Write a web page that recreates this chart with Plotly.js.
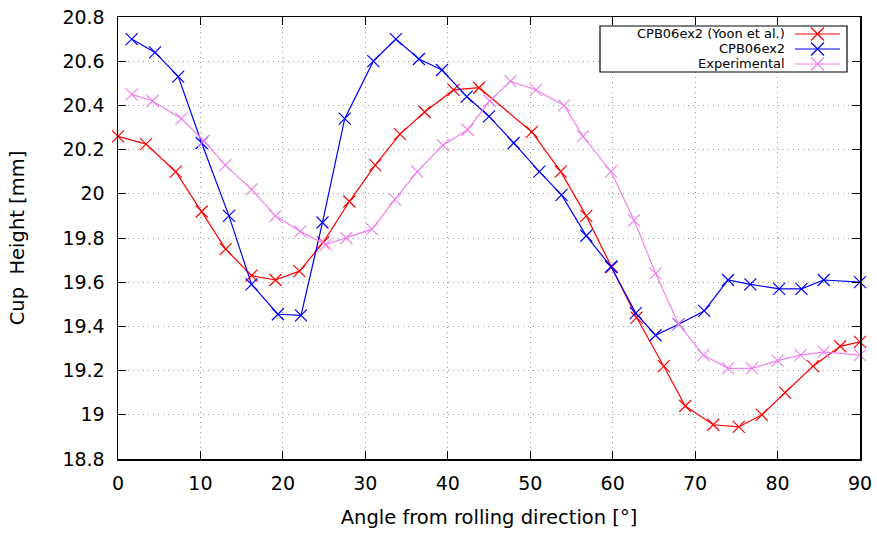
<!DOCTYPE html>
<html><head><meta charset="utf-8">
<script src="https://cdn.plot.ly/plotly-3.0.1.min.js"></script>
<style>html,body{margin:0;padding:0;background:#fff}#c{width:877px;height:533px}</style>
</head><body><div id="c"></div>
<script>
const yoonX = [0, 3.4, 7.0, 10.15, 13.06, 16.2, 19.1, 22.0, 24.9, 28.06, 31.2, 34.2, 37.2, 40.7, 43.8, 50.2, 53.7, 56.8, 59.9, 62.9, 66.2, 68.8, 72.2, 75.3, 78.1, 80.9, 84.3, 87.6, 90];
const yoonY = [20.26, 20.225, 20.10, 19.92, 19.75, 19.63, 19.61, 19.65, 19.78, 19.965, 20.13, 20.27, 20.37, 20.47, 20.48, 20.28, 20.10, 19.90, 19.67, 19.44, 19.22, 19.04, 18.955, 18.945, 19.00, 19.10, 19.22, 19.31, 19.33];
const cpbX = [1.66, 4.49, 7.31, 10.15, 13.46, 16.2, 19.4, 22.2, 24.8, 27.5, 30.97, 33.7, 36.5, 39.3, 42.3, 45.0, 48.0, 51.1, 53.8, 56.8, 59.8, 62.8, 65.2, 68.0, 71.1, 74.0, 76.7, 80.2, 82.9, 85.6, 90];
const cpbY = [20.70, 20.64, 20.53, 20.23, 19.90, 19.59, 19.455, 19.45, 19.87, 20.34, 20.60, 20.70, 20.61, 20.56, 20.44, 20.35, 20.23, 20.10, 19.995, 19.81, 19.67, 19.46, 19.36, 19.41, 19.47, 19.61, 19.59, 19.57, 19.57, 19.61, 19.60];
const expX = [1.66, 4.2, 7.7, 10.4, 13.0, 16.2, 19.1, 22.1, 25.2, 27.7, 30.8, 33.6, 36.3, 39.4, 42.4, 45.1, 47.6, 50.7, 54.1, 56.4, 59.8, 62.6, 65.2, 68.0, 71.0, 74.0, 76.9, 80.0, 82.8, 85.6, 90];
const expY = [20.45, 20.42, 20.34, 20.24, 20.13, 20.02, 19.90, 19.83, 19.77, 19.80, 19.84, 19.975, 20.10, 20.22, 20.29, 20.42, 20.51, 20.47, 20.40, 20.26, 20.10, 19.88, 19.64, 19.41, 19.27, 19.21, 19.21, 19.245, 19.27, 19.285, 19.27];
const seriesNames = ['CPB06ex2 (Yoon et al.)', 'CPB06ex2', 'Experimental'];
const seriesColors = ['#ff0000', '#0000ff', '#ee82ee'];
const xTicks = [0, 10, 20, 30, 40, 50, 60, 70, 80, 90];
const yTicks = [18.8, 19, 19.2, 19.4, 19.6, 19.8, 20, 20.2, 20.4, 20.6, 20.8];
const yTickText = ['18.8', '19', '19.2', '19.4', '19.6', '19.8', '20', '20.2', '20.4', '20.6', '20.8'];

const xs = [yoonX, cpbX, expX], ys = [yoonY, cpbY, expY];
const traces = xs.map((x, i) => ({
  x: x, y: ys[i], type: 'scatter', mode: 'lines+markers', name: seriesNames[i],
  line: {color: seriesColors[i], width: 1.2},
  marker: {symbol: 'x-thin-open', size: 12, line: {color: seriesColors[i], width: 1.2}},
  showlegend: false, cliponaxis: false
}));

const W = 877, H = 533, L = 118, R = 17, T = 17, B = 74;
const pw = W - L - R, ph = H - T - B;
function px(xp) { return (xp - L) / pw; }
function py(yp) { return 1 - (yp - T) / ph; }
const shapes = [];
const annotations = [];
shapes.push({type: 'rect', xref: 'paper', yref: 'paper', x0: px(600), x1: px(847), y0: py(26), y1: py(72), line: {color: '#000', width: 1.2}, fillcolor: '#fff', layer: 'above'});
const rowsY = [34, 49, 64];
seriesNames.forEach((n, i) => {
  const yy = rowsY[i];
  annotations.push({xref: 'paper', yref: 'paper', x: px(787), y: py(yy), xanchor: 'right', yanchor: 'middle', text: n, showarrow: false, font: {family: 'DejaVu Sans', size: 13, color: '#000'}});
  shapes.push({type: 'line', xref: 'paper', yref: 'paper', x0: px(795), x1: px(840), y0: py(yy), y1: py(yy), line: {color: seriesColors[i], width: 1.2}, layer: 'above'});
  shapes.push({type: 'line', xref: 'paper', yref: 'paper', x0: px(811), x1: px(824), y0: py(yy - 6.5), y1: py(yy + 6.5), line: {color: seriesColors[i], width: 1.2}, layer: 'above'});
  shapes.push({type: 'line', xref: 'paper', yref: 'paper', x0: px(811), x1: px(824), y0: py(yy + 6.5), y1: py(yy - 6.5), line: {color: seriesColors[i], width: 1.2}, layer: 'above'});
});

const axisCommon = {
  showline: true, linecolor: '#000', linewidth: 1.5, mirror: 'allticks',
  ticks: 'inside', ticklen: 8, tickwidth: 1, tickcolor: '#000',
  showgrid: true, gridcolor: '#9a9a9a', griddash: '1px,4px', gridwidth: 1,
  zeroline: false, tickfont: {family: 'DejaVu Sans', size: 19, color: '#000'}
};
const layout = {
  width: W, height: H, margin: {l: L, r: R, t: T, b: B},
  paper_bgcolor: '#fff', plot_bgcolor: '#fff', showlegend: false,
  xaxis: Object.assign({}, axisCommon, {range: [0, 90], tickvals: xTicks, ticktext: xTicks.map(String), ticklabelstandoff: 7,
    title: {text: 'Angle from rolling direction [°]', font: {family: 'DejaVu Sans', size: 19.5, color: '#000'}, standoff: 17}}),
  yaxis: Object.assign({}, axisCommon, {range: [18.8, 20.8], tickvals: yTicks, ticktext: yTickText, ticklabelstandoff: 8,
    title: {text: 'Cup  Height [mm]', font: {family: 'DejaVu Sans', size: 19.5, color: '#000'}, standoff: 32}}),
  shapes: shapes, annotations: annotations
};
Plotly.newPlot('c', traces, layout, {displayModeBar: false, staticPlot: true});
</script></body></html>
